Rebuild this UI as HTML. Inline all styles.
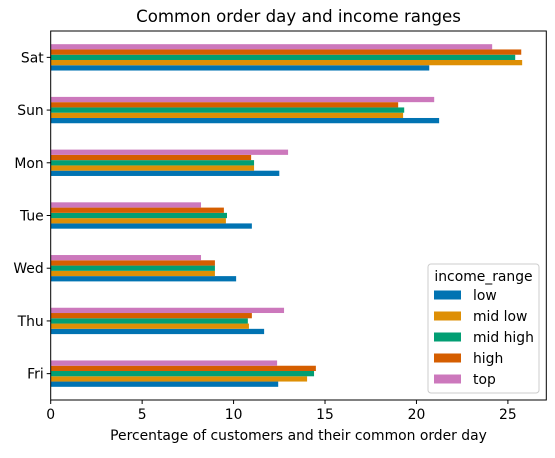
<!DOCTYPE html>
<html><head><meta charset="utf-8"><style>
body{margin:0;background:#fff}
svg{font-family:"DejaVu Sans","Liberation Sans",sans-serif}
</style></head><body>
<svg id="chart" width="555" height="453" xmlns="http://www.w3.org/2000/svg"></svg>
<script>
const days = ["Fri","Thu","Wed","Tue","Mon","Sun","Sat"];
const seriesNames = ["low","mid low","mid high","high","top"];
const seriesColors = ["#0173b2","#de8f05","#029e73","#d55e00","#cc78bc"];
const lowVals = [12.44,11.67,10.14,11.0,12.5,21.24,20.7];
const midLowVals = [14.02,10.84,8.98,9.58,11.12,19.27,25.78];
const midHighVals = [14.4,10.78,8.98,9.64,11.12,19.33,25.4];
const highVals = [14.5,11.0,8.98,9.47,10.96,19.0,25.73];
const topVals = [12.38,12.76,8.22,8.22,12.98,20.97,24.14];
const xTicks = [0,5,10,15,20,25];

const allSeries = [lowVals,midLowVals,midHighVals,highVals,topVals];
const NS="http://www.w3.org/2000/svg";
const svg=document.getElementById('chart');
const L=50.7,R=546.3,T=31,B=400,XMAX=27.1;
const FS=13.9;
const xs=v=>L+v/XMAX*(R-L);
const ys=i=>B-(i+0.5)/days.length*(B-T);
const band=(B-T)/days.length*0.5;
function mk(tag,attrs,txt){const e=document.createElementNS(NS,tag);for(const k in attrs)e.setAttribute(k,attrs[k]);if(txt!==undefined)e.textContent=txt;svg.appendChild(e);return e;}

allSeries.forEach((vals,s)=>{
  vals.forEach((v,i)=>{
    const h=band/allSeries.length;
    const y=ys(i)+band/2-(s+1)*h;
    const r=mk('rect',{x:L,y:y,width:xs(v)-L,height:h,fill:seriesColors[s]});
    
    
  });
});
const fr=mk('rect',{x:L,y:T,width:R-L,height:B-T,fill:'none',stroke:'#000','stroke-width':1});


xTicks.forEach(t=>{
  const x=xs(t);
  const tk=mk('line',{x1:x,x2:x,y1:B,y2:B+4,stroke:'#000'});
  
  
  const lb=mk('text',{x:x,y:B+19,'text-anchor':'middle','font-size':FS,fill:'#000'},String(t));
  
  
});
days.forEach((d,i)=>{
  const y=ys(i);
  const tk=mk('line',{x1:L-4,x2:L,y1:y,y2:y,stroke:'#000'});
  
  
  const lb=mk('text',{x:L-7,y:y+5,'text-anchor':'end','font-size':FS,fill:'#000'},d);
  
  
});
const ttl=mk('text',{x:(L+R)/2,y:22,'text-anchor':'middle','font-size':16.6,fill:'#000'},'Common order day and income ranges');


const xt=mk('text',{x:(L+R)/2,y:440,'text-anchor':'middle','font-size':FS,fill:'#000'},'Percentage of customers and their common order day');


const lg=mk('rect',{x:428,y:264,width:111,height:129,rx:3,fill:'#fff','fill-opacity':0.8,stroke:'#ccc'});


const lt=mk('text',{x:483.5,y:281,'text-anchor':'middle','font-size':FS,fill:'#000'},'income_range');


seriesNames.forEach((n,s)=>{
  const y=295+s*21;
  const p=mk('rect',{x:434,y:y-4.5,width:27,height:9,fill:seriesColors[s]});
  
  
  const t=mk('text',{x:473,y:y+5,'font-size':FS,fill:'#000'},n);
  
  
});
</script>
</body></html>
